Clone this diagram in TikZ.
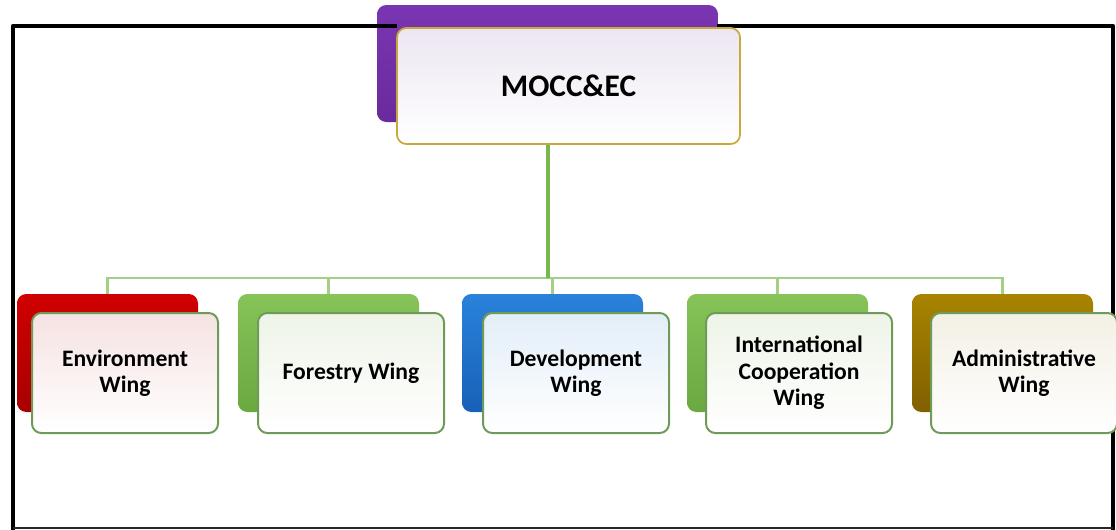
\documentclass[tikz,border=0pt]{standalone}
\usepackage{fontspec}
\setmainfont{Carlito}
\definecolor{purpleback}{HTML}{6A2A9C}
\definecolor{purplelite}{HTML}{7A36B2}
\definecolor{toptint}{HTML}{ECE6F2}
\definecolor{topline}{HTML}{C9A93A}
\definecolor{redback}{HTML}{D00000}
\definecolor{reddark}{HTML}{A80000}
\definecolor{greenback}{HTML}{86C45A}
\definecolor{greendark}{HTML}{6AA840}
\definecolor{blueback}{HTML}{2A82DA}
\definecolor{bluedark}{HTML}{1860B8}
\definecolor{goldback}{HTML}{A88400}
\definecolor{golddark}{HTML}{806000}
\definecolor{envtint}{HTML}{F6E2E2}
\definecolor{fortint}{HTML}{EEF4E8}
\definecolor{devtint}{HTML}{E2EEF8}
\definecolor{adtint}{HTML}{F3F0E4}
\definecolor{frontline}{HTML}{6F9A57}
\definecolor{trunkgreen}{HTML}{77B74B}
\definecolor{branchgreen}{HTML}{A3D084}
\pgfdeclarelayer{bg}
\pgfsetlayers{bg,main}
\begin{document}
\begin{tikzpicture}[x=0.75pt,y=-0.75pt,
  back/.style={rounded corners=7pt, minimum width=135.75pt, minimum height=88.5pt, inner sep=0pt},
  front/.style={rounded corners=7pt, draw=frontline, line width=1.5pt, minimum width=139.5pt, minimum height=90pt, inner sep=0pt, align=center, font=\fontsize{17.7}{19.8}\selectfont\bfseries},
  topback/.style={rounded corners=7pt, minimum width=255.75pt, minimum height=87.75pt, inner sep=0pt, top color=purplelite, bottom color=purpleback},
  topfront/.style={rounded corners=7pt, draw=topline, line width=1.3pt, minimum width=257.25pt, minimum height=87pt, inner sep=0pt, top color=toptint, middle color=toptint, bottom color=white, font=\fontsize{23.5}{28}\selectfont\bfseries},
  trunk/.style={draw=trunkgreen, line width=3pt},
  branch/.style={draw=branchgreen, line width=2pt},
  frameline/.style={draw=black, line width=3.6pt, line join=round}]
\useasboundingbox (0,0) rectangle (1116,529);

% top box (back)
\node[topback] (topb) at (547.5,63.5) {};
% frame
\draw[frameline] (13,530) -- (13,26) -- (1113,26) -- (1113,530);
\draw[black!85, line width=1.4pt] (13,528) -- (1113,528);
\fill[purplelite!85!purpleback] (397,22) rectangle (717,31);
% top box (front)
\node[topfront] (top) at (568.5,86) {MOCC\&EC};

% wing back boxes
\node[back, top color=redback, bottom color=reddark] (envb) at (107.5,353) {};
\node[back, top color=greenback, bottom color=greendark] (forb) at (328.5,353) {};
\node[back, top color=blueback, bottom color=bluedark] (devb) at (552.5,353) {};
\node[back, top color=greenback, bottom color=greendark] (intb) at (777.5,353) {};
\node[back, top color=goldback, bottom color=golddark] (admb) at (1002.5,353) {};

% wing front boxes
\node[front, top color=envtint, middle color=envtint, bottom color=white] (env) at (125,373) {Environment\\Wing};
\node[front, top color=fortint, middle color=fortint, bottom color=white] (for) at (351,373) {Forestry Wing};
\node[front, top color=devtint, middle color=devtint, bottom color=white] (dev) at (576,373) {Development\\Wing};
\node[front, top color=fortint, middle color=fortint, bottom color=white] (int) at (799,373) {International\\Cooperation\\Wing};
\node[front, top color=adtint, middle color=adtint, bottom color=white] (adm) at (1024,373) {Administrative\\Wing};

\coordinate (j) at (547.5,278);
\begin{pgfonlayer}{bg}
\draw[branch] (envb.north) |- (j) -| (admb.north);
\draw[branch] (forb.north) -- (forb.north |- j);
\draw[branch] (devb.north) -- (devb.north |- j);
\draw[branch] (intb.north) -- (intb.north |- j);
\draw[trunk] (topb.south) -- (j);
\end{pgfonlayer}
\end{tikzpicture}
\end{document}
